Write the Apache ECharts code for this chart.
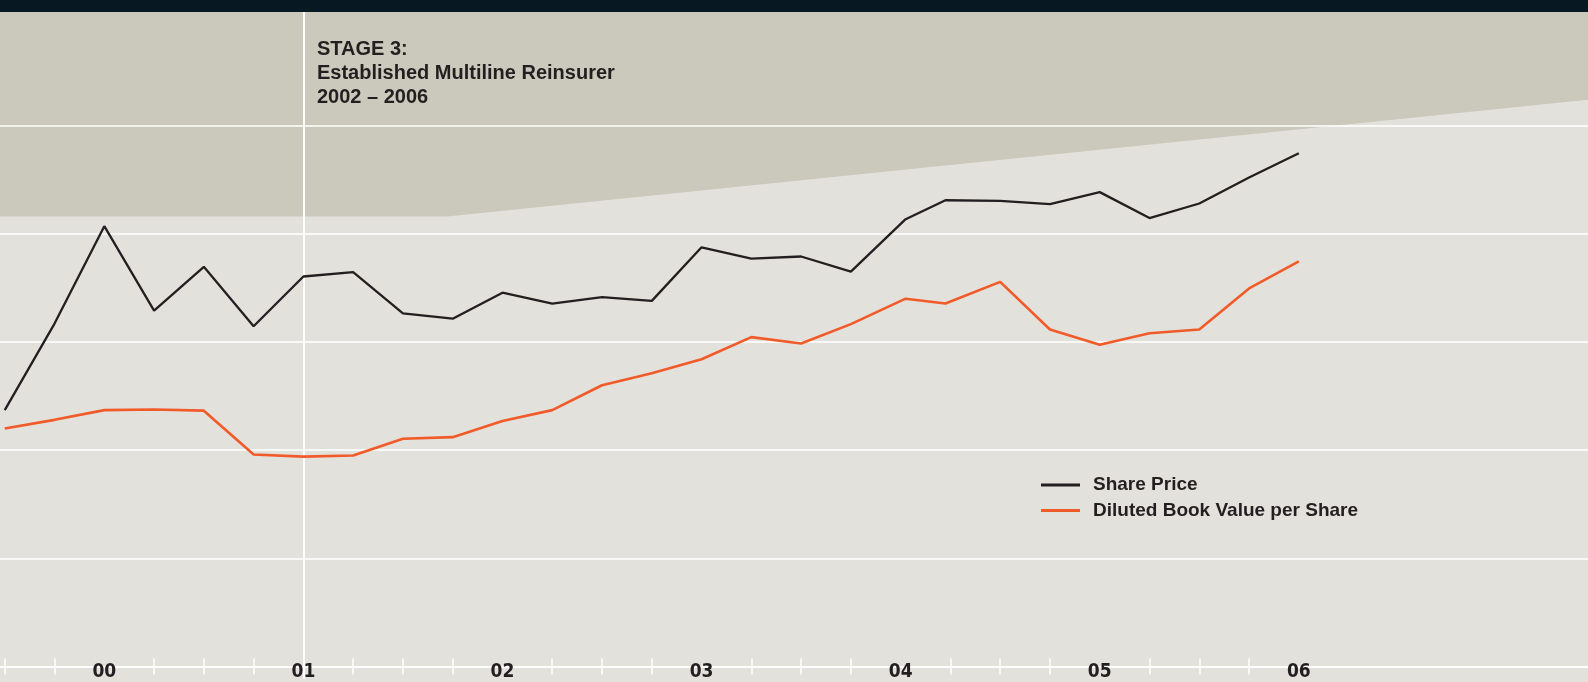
<!DOCTYPE html>
<html>
<head>
<meta charset="utf-8">
<script src="https://cdn.jsdelivr.net/npm/echarts@6/dist/echarts.min.js"></script>
<style>
  html, body { margin: 0; padding: 0; background: #e2e1db; }
  #echarts { width: 1588px; height: 682px; }
</style>
</head>
<body>
<div id="echarts"></div>
<script>
// x positions in quarters, 0 = start of 2000
const quarters = [-2, -1, 0, 1, 2, 3, 4, 5, 6, 7, 8, 9, 10, 11, 12, 13, 14, 15, 16.1, 16.9, 18, 19, 20, 21, 22, 23, 24];
const sharePrice = [47.4, 63.4, 81.4, 65.8, 73.9, 62.9, 72.1, 72.9, 65.3, 64.3, 69.1, 67.1, 68.3, 67.6, 77.5, 75.4, 75.8, 73.0, 82.7, 86.2, 86.1, 85.5, 87.7, 82.9, 85.6, 90.4, 94.9];
const bookValue = [44.0, 45.6, 47.4, 47.5, 47.3, 39.2, 38.8, 39.0, 42.1, 42.4, 45.4, 47.4, 52.0, 54.2, 56.8, 60.9, 59.7, 63.3, 68.0, 67.1, 71.1, 62.3, 59.5, 61.6, 62.3, 69.9, 74.9];

const yearTicks = [0, 4, 8, 12, 16, 20, 24];
const yearLabels = ['00', '01', '02', '03', '04', '05', '06'];
const quarterTicks = [-2, -1, 1, 2, 3, 5, 6, 7, 9, 10, 11, 13, 14, 15, 17, 18, 19, 21, 22, 23];

const xMin = -2.0956;
const xMax = 29.81;
const yMax = 121;

// stage 3 band (upper edge is the top of the chart)
const bandX = [xMin, 6.89, xMax];
const bandEdge = [83.2, 83.2, 104.8];
const stageStart = 4;

const INK = '#231f20';
const ORANGE = '#f15a29';
const FONT = "'Liberation Sans', Arial, sans-serif";
const NARROW = "'Liberation Sans Narrow', 'DejaVu Sans Condensed', 'Liberation Sans', sans-serif";

const pairs = (xs, ys) => xs.map((x, i) => [x, ys[i]]);

const baseX = {
  type: 'value',
  min: xMin,
  max: xMax,
  position: 'bottom',
  splitLine: { show: false },
};

const option = {
  backgroundColor: '#e2e1db',
  animation: false,
  grid: { left: 0, right: 0, top: 12, bottom: 12 },
  graphic: [
    {
      type: 'rect',
      left: 0,
      top: 0,
      shape: { width: 1588, height: 12 },
      style: { fill: '#071823' },
      z: 10,
    },
  ],
  title: {
    text: 'STAGE 3:\nEstablished Multiline Reinsurer\n2002 – 2006',
    left: 317,
    top: 37,
    padding: 0,
    textStyle: {
      fontFamily: FONT,
      fontSize: 20,
      fontWeight: 'bold',
      lineHeight: 24.3,
      color: INK,
    },
  },
  legend: {
    orient: 'vertical',
    left: 1041,
    top: 474,
    padding: 0,
    icon: 'rect',
    itemWidth: 39,
    itemHeight: 3,
    itemGap: 3.5,
    data: ['Share Price', 'Diluted Book Value per Share'],
    textStyle: {
      fontFamily: FONT,
      fontSize: 19,
      fontWeight: 'bold',
      lineHeight: 22,
      color: INK,
      padding: [0, 0, 0, 8],
    },
  },
  xAxis: [
    {
      ...baseX,
      axisLine: { show: true, lineStyle: { color: '#fff', width: 2 } },
      axisTick: {
        show: true,
        inside: true,
        length: 8,
        customValues: quarterTicks,
        lineStyle: { color: '#fff', width: 1.5 },
      },
      axisLabel: {
        customValues: yearTicks,
        formatter: (v) => yearLabels[yearTicks.indexOf(Math.round(v))],
        margin: 6,
        verticalAlign: 'middle',
        fontFamily: NARROW,
        fontSize: 19,
        fontWeight: 'bold',
        color: INK,
      },
    },
    {
      ...baseX,
      axisLine: { show: false },
      axisTick: {
        show: true,
        length: 8,
        customValues: quarterTicks,
        lineStyle: { color: '#fff', width: 1.5 },
      },
      axisLabel: { show: false },
    },
    {
      ...baseX,
      axisLine: { show: false },
      axisTick: {
        show: true,
        length: 12,
        customValues: [stageStart],
        lineStyle: { color: '#fff', width: 2 },
      },
      axisLabel: { show: false },
    },
  ],
  yAxis: {
    type: 'value',
    min: 0,
    max: yMax,
    interval: 20,
    axisLine: { show: false },
    axisTick: { show: false },
    axisLabel: { show: false },
    splitLine: {
      show: true,
      showMinLine: false,
      showMaxLine: false,
      lineStyle: {
        color: ['#fff', '#fff', '#fff', '#fff', '#fff', 'rgba(0,0,0,0)'],
        width: 1.5,
      },
    },
  },
  series: [
    {
      name: 'stage',
      type: 'line',
      z: -1,
      silent: true,
      symbol: 'none',
      data: pairs(bandX, bandEdge),
      lineStyle: { width: 0 },
      areaStyle: { origin: 'end', color: '#cbc9bc', opacity: 1 },
      markLine: {
        z: 1,
        silent: true,
        symbol: 'none',
        label: { show: false },
        lineStyle: { color: '#fff', width: 2, type: 'solid' },
        data: [{ xAxis: stageStart }],
      },
    },
    {
      name: 'Share Price',
      type: 'line',
      symbol: 'none',
      data: pairs(quarters, sharePrice),
      lineStyle: { color: INK, width: 2.3 },
      itemStyle: { color: INK },
    },
    {
      name: 'Diluted Book Value per Share',
      type: 'line',
      symbol: 'none',
      data: pairs(quarters, bookValue),
      lineStyle: { color: ORANGE, width: 2.6 },
      itemStyle: { color: ORANGE },
    },
  ],
};

const myChart = echarts.init(document.getElementById('echarts'));
myChart.setOption(option);
</script>
</body>
</html>
